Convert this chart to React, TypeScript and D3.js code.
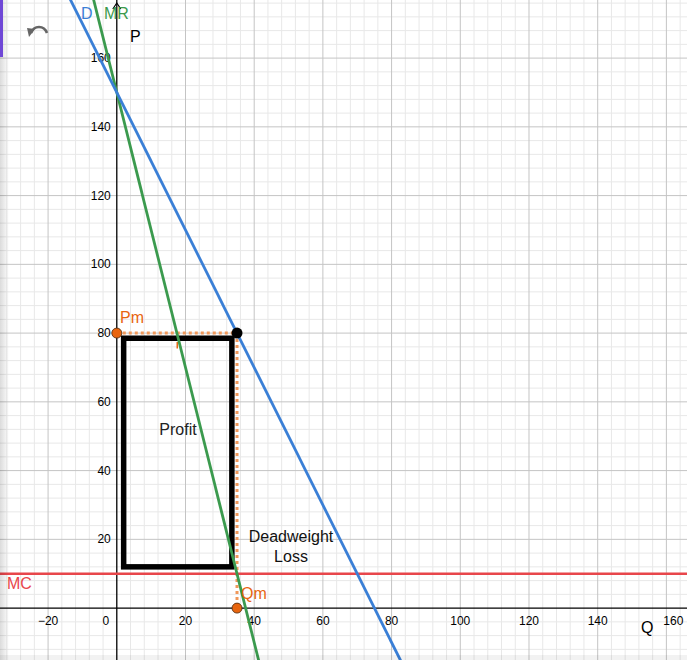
import React, { useEffect, useRef } from 'react';
import * as d3 from 'd3';

// values (Q, P)
const demandLine = [{ q: -15, p: 180 }, { q: 85, p: -20 }];
const mrLine = [{ q: -8, p: 182 }, { q: 42, p: -18 }];
const mcLevel = 10;
const monopoly = { q: 35, p: 80 };
const profitBox = { q0: 2, q1: 33.5, p0: 12, p1: 78.5 };
const xTicks = [-20, 20, 40, 60, 80, 100, 120, 140, 160];
const yTicks = [20, 40, 60, 80, 100, 120, 140, 160];

const W = 687;
const H = 660;
const FONT = '"Liberation Sans", Arial, Helvetica, sans-serif';
const BLUE = '#3a7fd6';
const GREEN = '#3b9a4e';
const RED = '#e8464b';
const ORANGE = '#e8650f';

export default function App() {
  const ref = useRef<SVGSVGElement>(null);

  useEffect(() => {
    const svg = d3.select(ref.current);
    svg.selectAll('*').remove();

    const x = d3.scaleLinear().domain([-34, 166]).range([0, W]);
    const y = d3.scaleLinear().domain([-15.1, 176.9]).range([H, 0]);

    svg.append('rect').attr('width', W).attr('height', H).attr('fill', '#fff');

    // grid
    const grid = svg.append('g');
    const minorX = d3.range(-32, 167, 4).filter(v => v % 20 !== 0);
    const minorY = d3.range(-12, 177, 4).filter(v => v % 20 !== 0);
    grid.selectAll('.mx').data(minorX).enter().append('line')
      .attr('x1', d => x(d)).attr('x2', d => x(d)).attr('y1', 0).attr('y2', H)
      .attr('stroke', '#e8e8e8').attr('stroke-width', 1);
    grid.selectAll('.my').data(minorY).enter().append('line')
      .attr('y1', d => y(d)).attr('y2', d => y(d)).attr('x1', 0).attr('x2', W)
      .attr('stroke', '#e8e8e8').attr('stroke-width', 1);
    grid.selectAll('.gx').data(xTicks).enter().append('line')
      .attr('x1', d => x(d)).attr('x2', d => x(d)).attr('y1', 0).attr('y2', H)
      .attr('stroke', '#c4c4c4').attr('stroke-width', 1);
    grid.selectAll('.gy').data(yTicks).enter().append('line')
      .attr('y1', d => y(d)).attr('y2', d => y(d)).attr('x1', 0).attr('x2', W)
      .attr('stroke', '#c4c4c4').attr('stroke-width', 1);

    // axes
    svg.append('line').attr('x1', 0).attr('x2', W).attr('y1', y(0)).attr('y2', y(0))
      .attr('stroke', '#000').attr('stroke-width', 1.3);
    svg.append('line').attr('x1', x(0)).attr('x2', x(0)).attr('y1', 0).attr('y2', H)
      .attr('stroke', '#000').attr('stroke-width', 1.3);
    svg.append('path')
      .attr('d', `M${x(0) - 4},${9} L${x(0)},${3} L${x(0) + 4},${9}`)
      .attr('fill', 'none').attr('stroke', '#000').attr('stroke-width', 1.2);

    svg.selectAll('.xl').data(xTicks).enter().append('text')
      .attr('x', d => x(d) + (d === 160 ? 7 : 0)).attr('y', y(0) + 17)
      .attr('text-anchor', 'middle').attr('font-size', 12).attr('font-family', FONT)
      .text(d => (d < 0 ? '\u2212' + Math.abs(d) : d));
    svg.append('text').attr('x', x(0) - 11).attr('y', y(0) + 17)
      .attr('text-anchor', 'middle').attr('font-size', 12).attr('font-family', FONT).text('0');
    svg.selectAll('.yl').data(yTicks).enter().append('text')
      .attr('x', x(0) - 6).attr('y', d => y(d) + 4)
      .attr('text-anchor', 'end').attr('font-size', 12).attr('font-family', FONT)
      .text(d => d);

    svg.append('text').attr('x', 130).attr('y', 42).attr('font-size', 16)
      .attr('font-family', FONT).text('P');
    svg.append('text').attr('x', 641).attr('y', 633).attr('font-size', 16)
      .attr('font-family', FONT).text('Q');

    const line = d3.line<{ q: number; p: number }>().x(d => x(d.q)).y(d => y(d.p));

    // orange dotted guides
    svg.append('line')
      .attr('x1', x(0)).attr('x2', x(monopoly.q)).attr('y1', y(monopoly.p)).attr('y2', y(monopoly.p))
      .attr('stroke', '#f0985a').attr('stroke-width', 3).attr('stroke-dasharray', '3,3');
    svg.append('line')
      .attr('x1', x(monopoly.q)).attr('x2', x(monopoly.q)).attr('y1', y(monopoly.p)).attr('y2', y(0))
      .attr('stroke', '#f0985a').attr('stroke-width', 3).attr('stroke-dasharray', '3,3');

    // profit rectangle
    svg.append('rect')
      .attr('x', x(profitBox.q0)).attr('y', y(profitBox.p1))
      .attr('width', x(profitBox.q1) - x(profitBox.q0))
      .attr('height', y(profitBox.p0) - y(profitBox.p1))
      .attr('fill', 'none').attr('stroke', '#000').attr('stroke-width', 5.5);

    // small orange mark on the 80 line
    svg.append('line')
      .attr('x1', x(17.6)).attr('x2', x(17.6)).attr('y1', y(77.4)).attr('y2', y(75.5))
      .attr('stroke', ORANGE).attr('stroke-width', 1.5);

    // MC
    svg.append('line').attr('x1', 0).attr('x2', W).attr('y1', y(mcLevel)).attr('y2', y(mcLevel))
      .attr('stroke', RED).attr('stroke-width', 2.5);

    // D and MR
    svg.append('path').datum(mrLine).attr('d', line)
      .attr('fill', 'none').attr('stroke', GREEN).attr('stroke-width', 2.8);
    svg.append('path').datum(demandLine).attr('d', line)
      .attr('fill', 'none').attr('stroke', BLUE).attr('stroke-width', 2.8);

    // points
    svg.append('circle').attr('cx', x(0)).attr('cy', y(monopoly.p)).attr('r', 5)
      .attr('fill', ORANGE).attr('stroke', '#4a2a10').attr('stroke-width', 0.8);
    svg.append('circle').attr('cx', x(monopoly.q)).attr('cy', y(0)).attr('r', 5)
      .attr('fill', ORANGE).attr('stroke', '#4a2a10').attr('stroke-width', 0.8);
    svg.append('circle').attr('cx', x(monopoly.q)).attr('cy', y(monopoly.p)).attr('r', 5.5)
      .attr('fill', '#000');

    // labels
    const label = (tx: number, ty: number, t: string, c: string, anchor = 'start') =>
      svg.append('text').attr('x', tx).attr('y', ty).attr('font-size', 16)
        .attr('font-family', FONT).attr('fill', c).attr('text-anchor', anchor).text(t);
    label(81, 19, 'D', BLUE);
    label(104, 19, 'MR', GREEN);
    label(7, 589, 'MC', RED);
    label(120, 323, 'Pm', ORANGE);
    label(241, 599, 'Qm', ORANGE);
    label(178, 435, 'Profit', '#222', 'middle');
    label(291, 542, 'Deadweight', '#111', 'middle');
    label(291, 562, 'Loss', '#111', 'middle');

    // undo icon
    svg.append('path')
      .attr('d', 'M31,33 C34,25 44,25 47,33')
      .attr('fill', 'none').attr('stroke', '#666').attr('stroke-width', 2.6);
    svg.append('path').attr('d', 'M27,28 L35,29 L29,37 Z').attr('fill', '#666');

    // window chrome
    const grad = svg.append('defs').append('linearGradient').attr('id', 'edge')
      .attr('x1', 0).attr('x2', 1).attr('y1', 0).attr('y2', 0);
    grad.append('stop').attr('offset', 0).attr('stop-color', '#000').attr('stop-opacity', 0.14);
    grad.append('stop').attr('offset', 1).attr('stop-color', '#000').attr('stop-opacity', 0);
    svg.append('rect').attr('x', 0).attr('y', 0).attr('width', 9).attr('height', H).attr('fill', 'url(#edge)');
    svg.append('rect').attr('x', 0).attr('y', 0).attr('width', 3).attr('height', 57).attr('fill', '#6f47d6');
    svg.append('rect').attr('x', 0).attr('y', 655).attr('width', W).attr('height', 5)
      .attr('fill', '#000').attr('opacity', 0.05);
  }, []);

  return (
    <div style={{ position: 'absolute', left: 0, top: 0 }}>
      <svg ref={ref} width={W} height={H} style={{ display: 'block' }} />
    </div>
  );
}
